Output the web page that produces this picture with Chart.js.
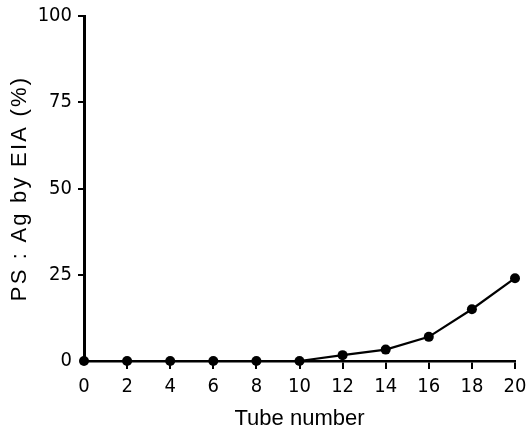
<!DOCTYPE html>
<html>
<head>
<meta charset="utf-8">
<script src="https://cdn.jsdelivr.net/npm/chart.js@4"></script>
<style>
  html, body { margin: 0; padding: 0; background: #fff; }
  #wrap { width: 527px; height: 432px; }
</style>
</head>
<body>
<div id="wrap"><canvas id="chart" width="527" height="432"></canvas></div>
<script>
const tubes = [0, 2, 4, 6, 8, 10, 12, 14, 16, 18, 20];
const psAg = [0, 0, 0, 0, 0, 0, 1.7, 3.3, 7.0, 15.0, 24.0];
const yTicks = [0, 25, 50, 75, 100];

const tickFont = { family: "'DejaVu Sans Condensed', 'Liberation Sans', sans-serif", size: 20 };
const titleFont = { family: "'Liberation Sans', Arial, sans-serif", size: 22 };

// y title in the figure is spaced out a bit
const spacedTitle = {
  id: 'spacedTitle',
  beforeDraw(chart) {
    const scale = chart.scales.y;
    if (scale._spaced) return;
    const base = scale.drawTitle;
    scale.drawTitle = function () {
      chart.ctx.save();
      chart.ctx.letterSpacing = '2.2px';
      base.call(this);
      chart.ctx.restore();
    };
    scale._spaced = true;
  }
};

const hideZeroTick = (ctx) => (ctx.tick && ctx.tick.value === 0 ? 'rgba(0,0,0,0)' : '#000');

const ctx = document.getElementById('chart').getContext('2d');
const chart = new Chart(ctx, {
  type: 'line',
  data: {
    datasets: [{
      data: tubes.map((t, i) => ({ x: t, y: psAg[i] })),
      borderColor: '#000',
      backgroundColor: '#000',
      borderWidth: 2.2,
      pointRadius: 5,
      pointBackgroundColor: '#000',
      pointBorderWidth: 0,
      tension: 0,
      clip: false
    }]
  },
  options: {
    responsive: false,
    animation: false,
    layout: { padding: { top: 16, right: 12, left: 0, bottom: 0 } },
    plugins: { legend: { display: false }, tooltip: { enabled: false } },
    scales: {
      x: {
        type: 'linear',
        min: 0,
        max: 20,
        afterFit: (s) => { s.height = 71; s.paddingLeft = 0; s.paddingRight = 12; },
        ticks: { stepSize: 2, color: '#000', font: tickFont, padding: 6, maxRotation: 0 },
        grid: { drawOnChartArea: false, drawTicks: true, tickLength: 8, lineWidth: 2, color: hideZeroTick },
        border: { display: true, color: '#000', width: 2.5 },
        title: { display: true, text: 'Tube number', color: '#000',
                 font: titleFont, padding: { top: 0, bottom: 0 } }
      },
      y: {
        type: 'linear',
        min: 0,
        max: 100,
        afterFit: (s) => { s.width = 84; s.paddingTop = 0; s.paddingBottom = 0; },
        afterBuildTicks: (s) => { s.ticks = yTicks.map(v => ({ value: v })); },
        ticks: { color: '#000', font: tickFont, padding: 6 },
        grid: { drawOnChartArea: false, drawTicks: true, tickLength: 6, lineWidth: 2, color: hideZeroTick },
        border: { display: true, color: '#000', width: 3 },
        title: { display: true, text: 'PS : Ag by EIA (%)', color: '#000',
                 font: titleFont, padding: { top: 7, bottom: 0 } }
      }
    }
  },
  plugins: [spacedTitle]
});
</script>
</body>
</html>
